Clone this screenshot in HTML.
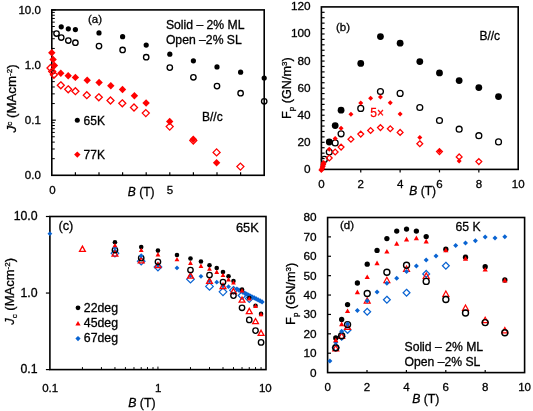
<!DOCTYPE html>
<html><head><meta charset="utf-8"><style>
html,body{margin:0;padding:0;background:#fff;width:533px;height:411px;overflow:hidden}
svg{display:block;font-family:"Liberation Sans",sans-serif;will-change:transform}

</style></head><body>
<svg width="533" height="411" viewBox="0 0 533 411">
<rect width="533" height="411" fill="#fff"/>
<rect x="51.8" y="9.9" width="212.39999999999998" height="165.4" fill="none" stroke="#000" stroke-width="1.6"/>
<line x1="51.80" y1="9.90" x2="55.80" y2="9.90" stroke="#000" stroke-width="1.2"/>
<line x1="51.80" y1="48.44" x2="54.80" y2="48.44" stroke="#000" stroke-width="1.0"/>
<line x1="51.80" y1="38.73" x2="54.80" y2="38.73" stroke="#000" stroke-width="1.0"/>
<line x1="51.80" y1="31.84" x2="54.80" y2="31.84" stroke="#000" stroke-width="1.0"/>
<line x1="51.80" y1="26.50" x2="54.80" y2="26.50" stroke="#000" stroke-width="1.0"/>
<line x1="51.80" y1="22.13" x2="54.80" y2="22.13" stroke="#000" stroke-width="1.0"/>
<line x1="51.80" y1="18.44" x2="54.80" y2="18.44" stroke="#000" stroke-width="1.0"/>
<line x1="51.80" y1="15.24" x2="54.80" y2="15.24" stroke="#000" stroke-width="1.0"/>
<line x1="51.80" y1="12.42" x2="54.80" y2="12.42" stroke="#000" stroke-width="1.0"/>
<line x1="51.80" y1="65.03" x2="55.80" y2="65.03" stroke="#000" stroke-width="1.2"/>
<line x1="51.80" y1="103.57" x2="54.80" y2="103.57" stroke="#000" stroke-width="1.0"/>
<line x1="51.80" y1="93.86" x2="54.80" y2="93.86" stroke="#000" stroke-width="1.0"/>
<line x1="51.80" y1="86.97" x2="54.80" y2="86.97" stroke="#000" stroke-width="1.0"/>
<line x1="51.80" y1="81.63" x2="54.80" y2="81.63" stroke="#000" stroke-width="1.0"/>
<line x1="51.80" y1="77.26" x2="54.80" y2="77.26" stroke="#000" stroke-width="1.0"/>
<line x1="51.80" y1="73.57" x2="54.80" y2="73.57" stroke="#000" stroke-width="1.0"/>
<line x1="51.80" y1="70.38" x2="54.80" y2="70.38" stroke="#000" stroke-width="1.0"/>
<line x1="51.80" y1="67.56" x2="54.80" y2="67.56" stroke="#000" stroke-width="1.0"/>
<line x1="51.80" y1="120.17" x2="55.80" y2="120.17" stroke="#000" stroke-width="1.2"/>
<line x1="51.80" y1="158.70" x2="54.80" y2="158.70" stroke="#000" stroke-width="1.0"/>
<line x1="51.80" y1="148.99" x2="54.80" y2="148.99" stroke="#000" stroke-width="1.0"/>
<line x1="51.80" y1="142.11" x2="54.80" y2="142.11" stroke="#000" stroke-width="1.0"/>
<line x1="51.80" y1="136.76" x2="54.80" y2="136.76" stroke="#000" stroke-width="1.0"/>
<line x1="51.80" y1="132.40" x2="54.80" y2="132.40" stroke="#000" stroke-width="1.0"/>
<line x1="51.80" y1="128.71" x2="54.80" y2="128.71" stroke="#000" stroke-width="1.0"/>
<line x1="51.80" y1="125.51" x2="54.80" y2="125.51" stroke="#000" stroke-width="1.0"/>
<line x1="51.80" y1="122.69" x2="54.80" y2="122.69" stroke="#000" stroke-width="1.0"/>
<line x1="75.40" y1="175.30" x2="75.40" y2="172.30" stroke="#000" stroke-width="1.2"/>
<line x1="99.00" y1="175.30" x2="99.00" y2="172.30" stroke="#000" stroke-width="1.2"/>
<line x1="122.60" y1="175.30" x2="122.60" y2="172.30" stroke="#000" stroke-width="1.2"/>
<line x1="146.20" y1="175.30" x2="146.20" y2="172.30" stroke="#000" stroke-width="1.2"/>
<line x1="169.80" y1="175.30" x2="169.80" y2="172.30" stroke="#000" stroke-width="1.2"/>
<line x1="193.40" y1="175.30" x2="193.40" y2="172.30" stroke="#000" stroke-width="1.2"/>
<line x1="217.00" y1="175.30" x2="217.00" y2="172.30" stroke="#000" stroke-width="1.2"/>
<line x1="240.60" y1="175.30" x2="240.60" y2="172.30" stroke="#000" stroke-width="1.2"/>
<text x="40.80" y="14.00" font-size="11.5" text-anchor="end" fill="#000" stroke="#000" stroke-width="0.3" >10.0</text>
<text x="40.80" y="69.13" font-size="11.5" text-anchor="end" fill="#000" stroke="#000" stroke-width="0.3" >1.0</text>
<text x="40.80" y="124.27" font-size="11.5" text-anchor="end" fill="#000" stroke="#000" stroke-width="0.3" >0.1</text>
<text x="40.80" y="179.40" font-size="11.5" text-anchor="end" fill="#000" stroke="#000" stroke-width="0.3" >0.0</text>
<text x="52.50" y="194.30" font-size="11.5" text-anchor="middle" fill="#000" stroke="#000" stroke-width="0.3" >0</text>
<text x="170.00" y="194.30" font-size="11.5" text-anchor="middle" fill="#000" stroke="#000" stroke-width="0.3" >5</text>
<text x="127.80" y="195.50" font-size="12" text-anchor="start" fill="#000" stroke="#000" stroke-width="0.3" ><tspan font-style="italic">B</tspan> (T)</text>
<text x="88.00" y="22.80" font-size="11.5" text-anchor="start" fill="#000" stroke="#000" stroke-width="0.3" >(a)</text>
<text x="165.90" y="28.60" font-size="12.2" text-anchor="start" fill="#000" stroke="#000" stroke-width="0.3" >Solid – 2% ML</text>
<text x="165.90" y="44.30" font-size="12.2" text-anchor="start" fill="#000" stroke="#000" stroke-width="0.3" >Open –2% SL</text>
<text x="202.00" y="120.80" font-size="12" text-anchor="start" fill="#000" stroke="#000" stroke-width="0.3" >B//c</text>
<circle cx="77.30" cy="120.30" r="2.5" fill="#000"/>
<text x="83.60" y="124.60" font-size="12" text-anchor="start" fill="#000" stroke="#000" stroke-width="0.3" >65K</text>
<path d="M77.30 151.40L80.50 154.60L77.30 157.80L74.10 154.60Z" fill="#f00"/>
<text x="83.60" y="158.70" font-size="12" text-anchor="start" fill="#000" stroke="#000" stroke-width="0.3" >77K</text>
<text x="0.00" y="0.00" font-size="13.3" text-anchor="middle" fill="#000" stroke="#000" stroke-width="0.3" transform="translate(16.0,98.4) rotate(-90)"><tspan font-style="italic">J</tspan><tspan font-size="8" dy="-4">c</tspan><tspan dy="4"> (MAcm</tspan><tspan font-size="8" dy="-4">-2</tspan><tspan dy="4">)</tspan></text>
<circle cx="61.24" cy="26.80" r="2.6" fill="#000"/>
<circle cx="68.32" cy="28.80" r="2.6" fill="#000"/>
<circle cx="75.40" cy="29.60" r="2.6" fill="#000"/>
<circle cx="99.00" cy="32.90" r="2.6" fill="#000"/>
<circle cx="122.60" cy="36.70" r="2.6" fill="#000"/>
<circle cx="146.20" cy="45.10" r="2.6" fill="#000"/>
<circle cx="169.80" cy="54.20" r="2.6" fill="#000"/>
<circle cx="193.40" cy="60.80" r="2.6" fill="#000"/>
<circle cx="217.00" cy="66.90" r="2.6" fill="#000"/>
<circle cx="240.60" cy="72.20" r="2.6" fill="#000"/>
<circle cx="264.20" cy="78.00" r="2.6" fill="#000"/>
<circle cx="56.52" cy="33.50" r="2.7" fill="none" stroke="#000" stroke-width="1.35"/>
<circle cx="61.24" cy="37.50" r="2.7" fill="none" stroke="#000" stroke-width="1.35"/>
<circle cx="68.32" cy="40.50" r="2.7" fill="none" stroke="#000" stroke-width="1.35"/>
<circle cx="75.40" cy="42.70" r="2.7" fill="none" stroke="#000" stroke-width="1.35"/>
<circle cx="99.00" cy="46.10" r="2.7" fill="none" stroke="#000" stroke-width="1.35"/>
<circle cx="122.60" cy="49.90" r="2.7" fill="none" stroke="#000" stroke-width="1.35"/>
<circle cx="146.20" cy="57.20" r="2.7" fill="none" stroke="#000" stroke-width="1.35"/>
<circle cx="169.80" cy="67.60" r="2.7" fill="none" stroke="#000" stroke-width="1.35"/>
<circle cx="193.40" cy="77.30" r="2.7" fill="none" stroke="#000" stroke-width="1.35"/>
<circle cx="217.00" cy="86.10" r="2.7" fill="none" stroke="#000" stroke-width="1.35"/>
<circle cx="240.60" cy="93.20" r="2.7" fill="none" stroke="#000" stroke-width="1.35"/>
<circle cx="264.20" cy="101.30" r="2.7" fill="none" stroke="#000" stroke-width="1.35"/>
<path d="M50.50 64.50L54.00 68.00L50.50 71.50L47.00 68.00Z" fill="none" stroke="#f00" stroke-width="1.3"/>
<path d="M52.20 67.90L55.70 71.40L52.20 74.90L48.70 71.40Z" fill="none" stroke="#f00" stroke-width="1.3"/>
<path d="M53.90 71.30L57.40 74.80L53.90 78.30L50.40 74.80Z" fill="none" stroke="#f00" stroke-width="1.3"/>
<path d="M60.80 81.80L64.30 85.30L60.80 88.80L57.30 85.30Z" fill="none" stroke="#f00" stroke-width="1.3"/>
<path d="M68.20 85.80L71.70 89.30L68.20 92.80L64.70 89.30Z" fill="none" stroke="#f00" stroke-width="1.3"/>
<path d="M75.40 87.70L78.90 91.20L75.40 94.70L71.90 91.20Z" fill="none" stroke="#f00" stroke-width="1.3"/>
<path d="M86.80 91.70L90.30 95.20L86.80 98.70L83.30 95.20Z" fill="none" stroke="#f00" stroke-width="1.3"/>
<path d="M98.80 93.80L102.30 97.30L98.80 100.80L95.30 97.30Z" fill="none" stroke="#f00" stroke-width="1.3"/>
<path d="M110.50 97.00L114.00 100.50L110.50 104.00L107.00 100.50Z" fill="none" stroke="#f00" stroke-width="1.3"/>
<path d="M122.30 99.80L125.80 103.30L122.30 106.80L118.80 103.30Z" fill="none" stroke="#f00" stroke-width="1.3"/>
<path d="M134.00 104.00L137.50 107.50L134.00 111.00L130.50 107.50Z" fill="none" stroke="#f00" stroke-width="1.3"/>
<path d="M145.80 109.60L149.30 113.10L145.80 116.60L142.30 113.10Z" fill="none" stroke="#f00" stroke-width="1.3"/>
<path d="M169.70 123.10L173.20 126.60L169.70 130.10L166.20 126.60Z" fill="none" stroke="#f00" stroke-width="1.3"/>
<path d="M193.30 137.00L196.80 140.50L193.30 144.00L189.80 140.50Z" fill="none" stroke="#f00" stroke-width="1.3"/>
<path d="M216.60 148.90L220.10 152.40L216.60 155.90L213.10 152.40Z" fill="none" stroke="#f00" stroke-width="1.3"/>
<path d="M240.40 163.10L243.90 166.60L240.40 170.10L236.90 166.60Z" fill="none" stroke="#f00" stroke-width="1.3"/>
<path d="M51.80 49.00L55.50 52.70L51.80 56.40L48.10 52.70Z" fill="#f00"/>
<path d="M53.10 55.80L56.80 59.50L53.10 63.20L49.40 59.50Z" fill="#f00"/>
<path d="M54.40 61.80L58.10 65.50L54.40 69.20L50.70 65.50Z" fill="#f00"/>
<path d="M60.80 69.60L64.50 73.30L60.80 77.00L57.10 73.30Z" fill="#f00"/>
<path d="M68.20 72.00L71.90 75.70L68.20 79.40L64.50 75.70Z" fill="#f00"/>
<path d="M75.40 73.70L79.10 77.40L75.40 81.10L71.70 77.40Z" fill="#f00"/>
<path d="M87.20 76.50L90.90 80.20L87.20 83.90L83.50 80.20Z" fill="#f00"/>
<path d="M99.10 78.80L102.80 82.50L99.10 86.20L95.40 82.50Z" fill="#f00"/>
<path d="M110.80 82.10L114.50 85.80L110.80 89.50L107.10 85.80Z" fill="#f00"/>
<path d="M122.50 85.80L126.20 89.50L122.50 93.20L118.80 89.50Z" fill="#f00"/>
<path d="M134.40 92.10L138.10 95.80L134.40 99.50L130.70 95.80Z" fill="#f00"/>
<path d="M146.10 99.30L149.80 103.00L146.10 106.70L142.40 103.00Z" fill="#f00"/>
<path d="M169.70 117.80L173.40 121.50L169.70 125.20L166.00 121.50Z" fill="#f00"/>
<path d="M193.30 135.60L197.00 139.30L193.30 143.00L189.60 139.30Z" fill="#f00"/>
<path d="M216.60 159.10L220.30 162.80L216.60 166.50L212.90 162.80Z" fill="#f00"/>
<rect x="321.4" y="6.9" width="196.80000000000007" height="162.5" fill="none" stroke="#000" stroke-width="1.6"/>
<line x1="321.40" y1="163.98" x2="324.60" y2="163.98" stroke="#000" stroke-width="1.2"/>
<line x1="321.40" y1="158.57" x2="324.60" y2="158.57" stroke="#000" stroke-width="1.2"/>
<line x1="321.40" y1="153.15" x2="324.60" y2="153.15" stroke="#000" stroke-width="1.2"/>
<line x1="321.40" y1="147.73" x2="324.60" y2="147.73" stroke="#000" stroke-width="1.2"/>
<line x1="321.40" y1="142.32" x2="324.60" y2="142.32" stroke="#000" stroke-width="1.2"/>
<line x1="321.40" y1="136.90" x2="324.60" y2="136.90" stroke="#000" stroke-width="1.2"/>
<line x1="321.40" y1="131.48" x2="324.60" y2="131.48" stroke="#000" stroke-width="1.2"/>
<line x1="321.40" y1="126.07" x2="324.60" y2="126.07" stroke="#000" stroke-width="1.2"/>
<line x1="321.40" y1="120.65" x2="324.60" y2="120.65" stroke="#000" stroke-width="1.2"/>
<line x1="321.40" y1="115.23" x2="324.60" y2="115.23" stroke="#000" stroke-width="1.2"/>
<line x1="321.40" y1="109.82" x2="324.60" y2="109.82" stroke="#000" stroke-width="1.2"/>
<line x1="321.40" y1="104.40" x2="324.60" y2="104.40" stroke="#000" stroke-width="1.2"/>
<line x1="321.40" y1="98.98" x2="324.60" y2="98.98" stroke="#000" stroke-width="1.2"/>
<line x1="321.40" y1="93.57" x2="324.60" y2="93.57" stroke="#000" stroke-width="1.2"/>
<line x1="321.40" y1="88.15" x2="324.60" y2="88.15" stroke="#000" stroke-width="1.2"/>
<line x1="321.40" y1="82.73" x2="324.60" y2="82.73" stroke="#000" stroke-width="1.2"/>
<line x1="321.40" y1="77.32" x2="324.60" y2="77.32" stroke="#000" stroke-width="1.2"/>
<line x1="321.40" y1="71.90" x2="324.60" y2="71.90" stroke="#000" stroke-width="1.2"/>
<line x1="321.40" y1="66.48" x2="324.60" y2="66.48" stroke="#000" stroke-width="1.2"/>
<line x1="321.40" y1="61.07" x2="324.60" y2="61.07" stroke="#000" stroke-width="1.2"/>
<line x1="321.40" y1="55.65" x2="324.60" y2="55.65" stroke="#000" stroke-width="1.2"/>
<line x1="321.40" y1="50.23" x2="324.60" y2="50.23" stroke="#000" stroke-width="1.2"/>
<line x1="321.40" y1="44.82" x2="324.60" y2="44.82" stroke="#000" stroke-width="1.2"/>
<line x1="321.40" y1="39.40" x2="324.60" y2="39.40" stroke="#000" stroke-width="1.2"/>
<line x1="321.40" y1="33.98" x2="324.60" y2="33.98" stroke="#000" stroke-width="1.2"/>
<line x1="321.40" y1="28.57" x2="324.60" y2="28.57" stroke="#000" stroke-width="1.2"/>
<line x1="321.40" y1="23.15" x2="324.60" y2="23.15" stroke="#000" stroke-width="1.2"/>
<line x1="321.40" y1="17.73" x2="324.60" y2="17.73" stroke="#000" stroke-width="1.2"/>
<line x1="321.40" y1="12.32" x2="324.60" y2="12.32" stroke="#000" stroke-width="1.2"/>
<line x1="360.76" y1="169.40" x2="360.76" y2="172.40" stroke="#000" stroke-width="1.2"/>
<line x1="400.12" y1="169.40" x2="400.12" y2="172.40" stroke="#000" stroke-width="1.2"/>
<line x1="439.48" y1="169.40" x2="439.48" y2="172.40" stroke="#000" stroke-width="1.2"/>
<line x1="478.84" y1="169.40" x2="478.84" y2="172.40" stroke="#000" stroke-width="1.2"/>
<text x="310.60" y="172.90" font-size="11.8" text-anchor="end" fill="#000" stroke="#000" stroke-width="0.3" >0</text>
<text x="310.60" y="145.82" font-size="11.8" text-anchor="end" fill="#000" stroke="#000" stroke-width="0.3" >20</text>
<text x="310.60" y="118.73" font-size="11.8" text-anchor="end" fill="#000" stroke="#000" stroke-width="0.3" >40</text>
<text x="310.60" y="91.65" font-size="11.8" text-anchor="end" fill="#000" stroke="#000" stroke-width="0.3" >60</text>
<text x="310.60" y="64.57" font-size="11.8" text-anchor="end" fill="#000" stroke="#000" stroke-width="0.3" >80</text>
<text x="310.60" y="37.48" font-size="11.8" text-anchor="end" fill="#000" stroke="#000" stroke-width="0.3" >100</text>
<text x="310.60" y="10.40" font-size="11.8" text-anchor="end" fill="#000" stroke="#000" stroke-width="0.3" >120</text>
<text x="321.40" y="187.60" font-size="11.5" text-anchor="middle" fill="#000" stroke="#000" stroke-width="0.3" >0</text>
<text x="360.76" y="187.60" font-size="11.5" text-anchor="middle" fill="#000" stroke="#000" stroke-width="0.3" >2</text>
<text x="400.12" y="187.60" font-size="11.5" text-anchor="middle" fill="#000" stroke="#000" stroke-width="0.3" >4</text>
<text x="439.48" y="187.60" font-size="11.5" text-anchor="middle" fill="#000" stroke="#000" stroke-width="0.3" >6</text>
<text x="478.84" y="187.60" font-size="11.5" text-anchor="middle" fill="#000" stroke="#000" stroke-width="0.3" >8</text>
<text x="518.20" y="187.60" font-size="11.5" text-anchor="middle" fill="#000" stroke="#000" stroke-width="0.3" >10</text>
<text x="409.30" y="194.80" font-size="12" text-anchor="start" fill="#000" stroke="#000" stroke-width="0.3" ><tspan font-style="italic">B</tspan> (T)</text>
<text x="336.00" y="31.20" font-size="11.5" text-anchor="start" fill="#000" stroke="#000" stroke-width="0.3" >(b)</text>
<text x="479.40" y="39.50" font-size="12" text-anchor="start" fill="#000" stroke="#000" stroke-width="0.3" >B//c</text>
<text x="370.30" y="116.60" font-size="12" text-anchor="start" fill="#f00" stroke="#f00" stroke-width="0.3" >5×</text>
<text x="0.00" y="0.00" font-size="12.7" text-anchor="middle" fill="#000" stroke="#000" stroke-width="0.3" transform="translate(290.9,88.2) rotate(-90)">F<tspan font-size="8" dy="3">p</tspan><tspan dy="-3"> (GN/m</tspan><tspan font-size="8" dy="-4">3</tspan><tspan dy="4">)</tspan></text>
<circle cx="329.27" cy="142.00" r="3.4" fill="#000"/>
<circle cx="335.18" cy="125.60" r="3.4" fill="#000"/>
<circle cx="341.08" cy="110.20" r="3.4" fill="#000"/>
<circle cx="360.76" cy="63.40" r="3.4" fill="#000"/>
<circle cx="380.44" cy="36.60" r="3.4" fill="#000"/>
<circle cx="400.12" cy="43.20" r="3.4" fill="#000"/>
<circle cx="419.80" cy="61.60" r="3.4" fill="#000"/>
<circle cx="439.48" cy="72.90" r="3.4" fill="#000"/>
<circle cx="459.16" cy="80.60" r="3.4" fill="#000"/>
<circle cx="478.84" cy="87.60" r="3.4" fill="#000"/>
<circle cx="498.52" cy="96.60" r="3.4" fill="#000"/>
<circle cx="324.35" cy="159.40" r="2.95" fill="none" stroke="#000" stroke-width="1.3"/>
<circle cx="329.27" cy="152.00" r="2.95" fill="none" stroke="#000" stroke-width="1.3"/>
<circle cx="335.18" cy="142.90" r="2.95" fill="none" stroke="#000" stroke-width="1.3"/>
<circle cx="341.08" cy="133.80" r="2.95" fill="none" stroke="#000" stroke-width="1.3"/>
<circle cx="360.76" cy="108.40" r="2.95" fill="none" stroke="#000" stroke-width="1.3"/>
<circle cx="380.44" cy="91.50" r="2.95" fill="none" stroke="#000" stroke-width="1.3"/>
<circle cx="400.12" cy="93.40" r="2.95" fill="none" stroke="#000" stroke-width="1.3"/>
<circle cx="419.80" cy="107.50" r="2.95" fill="none" stroke="#000" stroke-width="1.3"/>
<circle cx="439.48" cy="120.50" r="2.95" fill="none" stroke="#000" stroke-width="1.3"/>
<circle cx="459.16" cy="129.20" r="2.95" fill="none" stroke="#000" stroke-width="1.3"/>
<circle cx="478.84" cy="135.70" r="2.95" fill="none" stroke="#000" stroke-width="1.3"/>
<circle cx="498.52" cy="141.90" r="2.95" fill="none" stroke="#000" stroke-width="1.3"/>
<path d="M329.27 155.10L332.17 158.00L329.27 160.90L326.37 158.00Z" fill="none" stroke="#f00" stroke-width="1.3"/>
<path d="M335.18 149.10L338.08 152.00L335.18 154.90L332.28 152.00Z" fill="none" stroke="#f00" stroke-width="1.3"/>
<path d="M341.08 144.20L343.98 147.10L341.08 150.00L338.18 147.10Z" fill="none" stroke="#f00" stroke-width="1.3"/>
<path d="M350.92 136.40L353.82 139.30L350.92 142.20L348.02 139.30Z" fill="none" stroke="#f00" stroke-width="1.3"/>
<path d="M360.76 131.20L363.66 134.10L360.76 137.00L357.86 134.10Z" fill="none" stroke="#f00" stroke-width="1.3"/>
<path d="M370.60 127.60L373.50 130.50L370.60 133.40L367.70 130.50Z" fill="none" stroke="#f00" stroke-width="1.3"/>
<path d="M380.44 124.70L383.34 127.60L380.44 130.50L377.54 127.60Z" fill="none" stroke="#f00" stroke-width="1.3"/>
<path d="M390.28 125.90L393.18 128.80L390.28 131.70L387.38 128.80Z" fill="none" stroke="#f00" stroke-width="1.3"/>
<path d="M400.12 129.50L403.02 132.40L400.12 135.30L397.22 132.40Z" fill="none" stroke="#f00" stroke-width="1.3"/>
<path d="M419.80 140.80L422.70 143.70L419.80 146.60L416.90 143.70Z" fill="none" stroke="#f00" stroke-width="1.3"/>
<path d="M439.48 148.70L442.38 151.60L439.48 154.50L436.58 151.60Z" fill="none" stroke="#f00" stroke-width="1.3"/>
<path d="M459.16 154.00L462.06 156.90L459.16 159.80L456.26 156.90Z" fill="none" stroke="#f00" stroke-width="1.3"/>
<path d="M478.84 158.70L481.74 161.60L478.84 164.50L475.94 161.60Z" fill="none" stroke="#f00" stroke-width="1.3"/>
<path d="M329.27 146.80L331.77 149.30L329.27 151.80L326.77 149.30Z" fill="#f00"/>
<path d="M335.18 135.90L337.68 138.40L335.18 140.90L332.68 138.40Z" fill="#f00"/>
<path d="M341.08 125.80L343.58 128.30L341.08 130.80L338.58 128.30Z" fill="#f00"/>
<path d="M350.92 111.70L353.42 114.20L350.92 116.70L348.42 114.20Z" fill="#f00"/>
<path d="M360.76 100.60L363.26 103.10L360.76 105.60L358.26 103.10Z" fill="#f00"/>
<path d="M370.60 95.70L373.10 98.20L370.60 100.70L368.10 98.20Z" fill="#f00"/>
<path d="M380.44 94.40L382.94 96.90L380.44 99.40L377.94 96.90Z" fill="#f00"/>
<path d="M390.28 100.20L392.78 102.70L390.28 105.20L387.78 102.70Z" fill="#f00"/>
<path d="M400.12 111.50L402.62 114.00L400.12 116.50L397.62 114.00Z" fill="#f00"/>
<path d="M419.80 134.90L422.30 137.40L419.80 139.90L417.30 137.40Z" fill="#f00"/>
<path d="M439.48 148.60L441.98 151.10L439.48 153.60L436.98 151.10Z" fill="#f00"/>
<path d="M459.16 158.60L461.66 161.10L459.16 163.60L456.66 161.10Z" fill="#f00"/>
<path d="M321.30 167.00L324.30 170.00L321.30 173.00L318.30 170.00Z" fill="#f00"/>
<path d="M322.30 165.30L325.30 168.30L322.30 171.30L319.30 168.30Z" fill="#f00"/>
<path d="M322.80 163.30L325.80 166.30L322.80 169.30L319.80 166.30Z" fill="#f00"/>
<path d="M323.30 161.50L326.30 164.50L323.30 167.50L320.30 164.50Z" fill="#f00"/>
<path d="M323.60 160.00L326.60 163.00L323.60 166.00L320.60 163.00Z" fill="#f00"/>
<rect x="49.9" y="216.5" width="216.1" height="153.10000000000002" fill="none" stroke="#000" stroke-width="1.6"/>
<line x1="45.90" y1="216.50" x2="49.90" y2="216.50" stroke="#000" stroke-width="1.2"/>
<line x1="45.90" y1="293.05" x2="49.90" y2="293.05" stroke="#000" stroke-width="1.2"/>
<line x1="45.90" y1="369.60" x2="49.90" y2="369.60" stroke="#000" stroke-width="1.2"/>
<line x1="82.43" y1="369.60" x2="82.43" y2="367.10" stroke="#000" stroke-width="1.0"/>
<line x1="101.45" y1="369.60" x2="101.45" y2="367.10" stroke="#000" stroke-width="1.0"/>
<line x1="114.95" y1="369.60" x2="114.95" y2="367.10" stroke="#000" stroke-width="1.0"/>
<line x1="125.42" y1="369.60" x2="125.42" y2="367.10" stroke="#000" stroke-width="1.0"/>
<line x1="133.98" y1="369.60" x2="133.98" y2="367.10" stroke="#000" stroke-width="1.0"/>
<line x1="141.21" y1="369.60" x2="141.21" y2="367.10" stroke="#000" stroke-width="1.0"/>
<line x1="147.48" y1="369.60" x2="147.48" y2="367.10" stroke="#000" stroke-width="1.0"/>
<line x1="153.01" y1="369.60" x2="153.01" y2="367.10" stroke="#000" stroke-width="1.0"/>
<line x1="190.48" y1="369.60" x2="190.48" y2="367.10" stroke="#000" stroke-width="1.0"/>
<line x1="209.50" y1="369.60" x2="209.50" y2="367.10" stroke="#000" stroke-width="1.0"/>
<line x1="223.00" y1="369.60" x2="223.00" y2="367.10" stroke="#000" stroke-width="1.0"/>
<line x1="233.47" y1="369.60" x2="233.47" y2="367.10" stroke="#000" stroke-width="1.0"/>
<line x1="242.03" y1="369.60" x2="242.03" y2="367.10" stroke="#000" stroke-width="1.0"/>
<line x1="249.26" y1="369.60" x2="249.26" y2="367.10" stroke="#000" stroke-width="1.0"/>
<line x1="255.53" y1="369.60" x2="255.53" y2="367.10" stroke="#000" stroke-width="1.0"/>
<line x1="261.06" y1="369.60" x2="261.06" y2="367.10" stroke="#000" stroke-width="1.0"/>
<line x1="157.95" y1="369.60" x2="157.95" y2="366.60" stroke="#000" stroke-width="1.0"/>
<text x="37.60" y="220.00" font-size="12.3" text-anchor="end" fill="#000" stroke="#000" stroke-width="0.3" >10.0</text>
<text x="37.60" y="296.55" font-size="12.3" text-anchor="end" fill="#000" stroke="#000" stroke-width="0.3" >1.0</text>
<text x="37.60" y="373.10" font-size="12.3" text-anchor="end" fill="#000" stroke="#000" stroke-width="0.3" >0.1</text>
<text x="50.20" y="391.80" font-size="11.5" text-anchor="middle" fill="#000" stroke="#000" stroke-width="0.3" >0.1</text>
<text x="158.30" y="391.80" font-size="11.5" text-anchor="middle" fill="#000" stroke="#000" stroke-width="0.3" >1</text>
<text x="265.30" y="391.80" font-size="11.5" text-anchor="middle" fill="#000" stroke="#000" stroke-width="0.3" >10</text>
<text x="128.20" y="407.20" font-size="12.3" text-anchor="start" fill="#000" stroke="#000" stroke-width="0.3" ><tspan font-style="italic">B</tspan> (T)</text>
<text x="58.40" y="229.80" font-size="12.8" text-anchor="start" fill="#000" stroke="#000" stroke-width="0.3" >(c)</text>
<text x="236.00" y="232.40" font-size="12.8" text-anchor="start" fill="#000" stroke="#000" stroke-width="0.3" >65K</text>
<circle cx="78.00" cy="307.80" r="2.4" fill="#000"/>
<text x="83.80" y="312.20" font-size="12.3" text-anchor="start" fill="#000" stroke="#000" stroke-width="0.3" >22deg</text>
<path d="M78.00 320.90L80.60 325.58L75.40 325.58Z" fill="#f00"/>
<text x="83.80" y="327.20" font-size="12.3" text-anchor="start" fill="#000" stroke="#000" stroke-width="0.3" >45deg</text>
<path d="M78.00 336.00L80.60 338.60L78.00 341.20L75.40 338.60Z" fill="#0a64d2"/>
<text x="83.80" y="342.30" font-size="12.3" text-anchor="start" fill="#000" stroke="#000" stroke-width="0.3" >67deg</text>
<text x="0.00" y="0.00" font-size="13.0" text-anchor="middle" fill="#000" stroke="#000" stroke-width="0.3" transform="translate(13.5,291.4) rotate(-90)"><tspan font-style="italic">J</tspan><tspan font-size="8" dy="3">c</tspan><tspan dy="-3"> (MAcm</tspan><tspan font-size="8" dy="-4">-2</tspan><tspan dy="4">)</tspan></text>
<path d="M157.95 263.10L160.35 265.50L157.95 267.90L155.55 265.50Z" fill="#0a64d2"/>
<path d="M190.48 273.40L192.88 275.80L190.48 278.20L188.08 275.80Z" fill="#0a64d2"/>
<path d="M209.50 278.60L211.90 281.00L209.50 283.40L207.10 281.00Z" fill="#0a64d2"/>
<path d="M223.00 283.40L225.40 285.80L223.00 288.20L220.60 285.80Z" fill="#0a64d2"/>
<path d="M114.95 249.40L118.75 253.20L114.95 257.00L111.15 253.20Z" fill="none" stroke="#0a64d2" stroke-width="1.2"/>
<path d="M141.21 257.40L145.01 261.20L141.21 265.00L137.41 261.20Z" fill="none" stroke="#0a64d2" stroke-width="1.2"/>
<path d="M157.95 263.20L161.75 267.00L157.95 270.80L154.15 267.00Z" fill="none" stroke="#0a64d2" stroke-width="1.2"/>
<path d="M190.48 275.40L194.28 279.20L190.48 283.00L186.68 279.20Z" fill="none" stroke="#0a64d2" stroke-width="1.2"/>
<path d="M209.50 282.60L213.30 286.40L209.50 290.20L205.70 286.40Z" fill="none" stroke="#0a64d2" stroke-width="1.2"/>
<path d="M223.00 288.00L226.80 291.80L223.00 295.60L219.20 291.80Z" fill="none" stroke="#0a64d2" stroke-width="1.2"/>
<path d="M233.47 286.50L237.27 290.30L233.47 294.10L229.67 290.30Z" fill="none" stroke="#0a64d2" stroke-width="1.2"/>
<path d="M242.03 291.70L245.83 295.50L242.03 299.30L238.23 295.50Z" fill="none" stroke="#0a64d2" stroke-width="1.2"/>
<path d="M249.26 294.80L253.06 298.60L249.26 302.40L245.46 298.60Z" fill="none" stroke="#0a64d2" stroke-width="1.2"/>
<path d="M82.43 246.10L85.33 251.32L79.53 251.32Z" fill="none" stroke="#f00" stroke-width="1.3" stroke-linejoin="miter"/>
<path d="M114.95 250.90L117.85 256.12L112.05 256.12Z" fill="none" stroke="#f00" stroke-width="1.3" stroke-linejoin="miter"/>
<path d="M141.21 257.70L144.11 262.92L138.31 262.92Z" fill="none" stroke="#f00" stroke-width="1.3" stroke-linejoin="miter"/>
<path d="M157.95 262.50L160.85 267.72L155.05 267.72Z" fill="none" stroke="#f00" stroke-width="1.3" stroke-linejoin="miter"/>
<path d="M190.48 272.90L193.38 278.12L187.58 278.12Z" fill="none" stroke="#f00" stroke-width="1.3" stroke-linejoin="miter"/>
<path d="M209.50 278.20L212.40 283.42L206.60 283.42Z" fill="none" stroke="#f00" stroke-width="1.3" stroke-linejoin="miter"/>
<path d="M223.00 283.30L225.90 288.52L220.10 288.52Z" fill="none" stroke="#f00" stroke-width="1.3" stroke-linejoin="miter"/>
<path d="M233.47 288.40L236.37 293.62L230.57 293.62Z" fill="none" stroke="#f00" stroke-width="1.3" stroke-linejoin="miter"/>
<path d="M242.03 297.00L244.93 302.22L239.13 302.22Z" fill="none" stroke="#f00" stroke-width="1.3" stroke-linejoin="miter"/>
<path d="M249.26 308.40L252.16 313.62L246.36 313.62Z" fill="none" stroke="#f00" stroke-width="1.3" stroke-linejoin="miter"/>
<path d="M255.53 318.50L258.43 323.72L252.63 323.72Z" fill="none" stroke="#f00" stroke-width="1.3" stroke-linejoin="miter"/>
<path d="M261.06 330.20L263.96 335.42L258.16 335.42Z" fill="none" stroke="#f00" stroke-width="1.3" stroke-linejoin="miter"/>
<circle cx="114.95" cy="250.00" r="2.7" fill="none" stroke="#000" stroke-width="1.35"/>
<circle cx="141.21" cy="258.10" r="2.7" fill="none" stroke="#000" stroke-width="1.35"/>
<circle cx="157.95" cy="261.80" r="2.7" fill="none" stroke="#000" stroke-width="1.35"/>
<circle cx="190.48" cy="270.00" r="2.7" fill="none" stroke="#000" stroke-width="1.35"/>
<circle cx="209.50" cy="275.00" r="2.7" fill="none" stroke="#000" stroke-width="1.35"/>
<circle cx="223.00" cy="282.10" r="2.7" fill="none" stroke="#000" stroke-width="1.35"/>
<circle cx="233.47" cy="295.60" r="2.7" fill="none" stroke="#000" stroke-width="1.35"/>
<circle cx="242.03" cy="307.80" r="2.7" fill="none" stroke="#000" stroke-width="1.35"/>
<circle cx="249.26" cy="319.90" r="2.7" fill="none" stroke="#000" stroke-width="1.35"/>
<circle cx="255.53" cy="330.60" r="2.7" fill="none" stroke="#000" stroke-width="1.35"/>
<circle cx="261.06" cy="342.40" r="2.7" fill="none" stroke="#000" stroke-width="1.35"/>
<path d="M49.90 231.30L52.30 233.70L49.90 236.10L47.50 233.70Z" fill="#0a64d2"/>
<path d="M114.95 244.80L117.35 247.20L114.95 249.60L112.55 247.20Z" fill="#0a64d2"/>
<path d="M141.21 253.30L143.61 255.70L141.21 258.10L138.81 255.70Z" fill="#0a64d2"/>
<path d="M176.98 265.50L179.38 267.90L176.98 270.30L174.58 267.90Z" fill="#0a64d2"/>
<path d="M200.95 273.90L203.35 276.30L200.95 278.70L198.55 276.30Z" fill="#0a64d2"/>
<path d="M216.74 279.80L219.14 282.20L216.74 284.60L214.34 282.20Z" fill="#0a64d2"/>
<path d="M228.53 284.30L230.93 286.70L228.53 289.10L226.13 286.70Z" fill="#0a64d2"/>
<path d="M236.90 286.50L239.50 289.10L236.90 291.70L234.30 289.10Z" fill="#0a64d2"/>
<path d="M238.84 287.48L241.44 290.08L238.84 292.68L236.24 290.08Z" fill="#0a64d2"/>
<path d="M240.78 288.47L243.38 291.07L240.78 293.67L238.18 291.07Z" fill="#0a64d2"/>
<path d="M242.72 289.45L245.32 292.05L242.72 294.65L240.12 292.05Z" fill="#0a64d2"/>
<path d="M244.65 290.44L247.25 293.04L244.65 295.64L242.05 293.04Z" fill="#0a64d2"/>
<path d="M246.59 291.42L249.19 294.02L246.59 296.62L243.99 294.02Z" fill="#0a64d2"/>
<path d="M248.53 292.41L251.13 295.01L248.53 297.61L245.93 295.01Z" fill="#0a64d2"/>
<path d="M250.47 293.39L253.07 295.99L250.47 298.59L247.87 295.99Z" fill="#0a64d2"/>
<path d="M252.41 294.38L255.01 296.98L252.41 299.58L249.81 296.98Z" fill="#0a64d2"/>
<path d="M254.35 295.36L256.95 297.96L254.35 300.56L251.75 297.96Z" fill="#0a64d2"/>
<path d="M256.28 296.35L258.88 298.95L256.28 301.55L253.68 298.95Z" fill="#0a64d2"/>
<path d="M258.22 297.33L260.82 299.93L258.22 302.53L255.62 299.93Z" fill="#0a64d2"/>
<path d="M260.16 298.32L262.76 300.92L260.16 303.52L257.56 300.92Z" fill="#0a64d2"/>
<path d="M262.10 299.30L264.70 301.90L262.10 304.50L259.50 301.90Z" fill="#0a64d2"/>
<circle cx="114.95" cy="242.30" r="2.3" fill="#000"/>
<circle cx="141.21" cy="247.10" r="2.3" fill="#000"/>
<circle cx="157.95" cy="250.60" r="2.3" fill="#000"/>
<circle cx="176.98" cy="255.00" r="2.3" fill="#000"/>
<circle cx="190.48" cy="258.50" r="2.3" fill="#000"/>
<circle cx="200.95" cy="261.50" r="2.3" fill="#000"/>
<circle cx="209.50" cy="265.20" r="2.3" fill="#000"/>
<circle cx="216.74" cy="268.00" r="2.3" fill="#000"/>
<circle cx="223.00" cy="272.00" r="2.3" fill="#000"/>
<circle cx="228.53" cy="276.30" r="2.3" fill="#000"/>
<circle cx="233.47" cy="281.00" r="2.3" fill="#000"/>
<circle cx="242.03" cy="289.60" r="2.3" fill="#000"/>
<circle cx="249.26" cy="298.00" r="2.3" fill="#000"/>
<circle cx="255.53" cy="305.80" r="2.3" fill="#000"/>
<circle cx="261.06" cy="313.90" r="2.3" fill="#000"/>
<path d="M114.95 242.90L117.35 247.22L112.55 247.22Z" fill="#f00"/>
<path d="M141.21 247.80L143.61 252.12L138.81 252.12Z" fill="#f00"/>
<path d="M157.95 252.10L160.35 256.42L155.55 256.42Z" fill="#f00"/>
<path d="M176.98 256.90L179.38 261.22L174.58 261.22Z" fill="#f00"/>
<path d="M190.48 260.60L192.88 264.92L188.08 264.92Z" fill="#f00"/>
<path d="M200.95 263.60L203.35 267.92L198.55 267.92Z" fill="#f00"/>
<path d="M209.50 266.40L211.90 270.72L207.10 270.72Z" fill="#f00"/>
<path d="M216.74 269.60L219.14 273.92L214.34 273.92Z" fill="#f00"/>
<path d="M223.00 272.80L225.40 277.12L220.60 277.12Z" fill="#f00"/>
<path d="M228.53 277.10L230.93 281.42L226.13 281.42Z" fill="#f00"/>
<path d="M233.47 280.30L235.87 284.62L231.07 284.62Z" fill="#f00"/>
<path d="M242.03 288.20L244.43 292.52L239.63 292.52Z" fill="#f00"/>
<path d="M249.26 296.20L251.66 300.52L246.86 300.52Z" fill="#f00"/>
<path d="M255.53 303.80L257.93 308.12L253.13 308.12Z" fill="#f00"/>
<path d="M261.06 311.90L263.46 316.22L258.66 316.22Z" fill="#f00"/>
<rect x="327.6" y="217.5" width="197.0" height="155.10000000000002" fill="none" stroke="#000" stroke-width="1.6"/>
<line x1="327.60" y1="353.21" x2="331.00" y2="353.21" stroke="#000" stroke-width="1.2"/>
<line x1="327.60" y1="333.83" x2="331.00" y2="333.83" stroke="#000" stroke-width="1.2"/>
<line x1="327.60" y1="314.44" x2="331.00" y2="314.44" stroke="#000" stroke-width="1.2"/>
<line x1="327.60" y1="295.05" x2="331.00" y2="295.05" stroke="#000" stroke-width="1.2"/>
<line x1="327.60" y1="275.66" x2="331.00" y2="275.66" stroke="#000" stroke-width="1.2"/>
<line x1="327.60" y1="256.27" x2="331.00" y2="256.27" stroke="#000" stroke-width="1.2"/>
<line x1="327.60" y1="236.89" x2="331.00" y2="236.89" stroke="#000" stroke-width="1.2"/>
<line x1="367.00" y1="372.60" x2="367.00" y2="369.90" stroke="#000" stroke-width="1.2"/>
<line x1="406.40" y1="372.60" x2="406.40" y2="369.90" stroke="#000" stroke-width="1.2"/>
<line x1="445.80" y1="372.60" x2="445.80" y2="369.90" stroke="#000" stroke-width="1.2"/>
<line x1="485.20" y1="372.60" x2="485.20" y2="369.90" stroke="#000" stroke-width="1.2"/>
<text x="316.60" y="376.50" font-size="11.8" text-anchor="end" fill="#000" stroke="#000" stroke-width="0.3" >0</text>
<text x="316.60" y="357.11" font-size="11.8" text-anchor="end" fill="#000" stroke="#000" stroke-width="0.3" >10</text>
<text x="316.60" y="337.73" font-size="11.8" text-anchor="end" fill="#000" stroke="#000" stroke-width="0.3" >20</text>
<text x="316.60" y="318.34" font-size="11.8" text-anchor="end" fill="#000" stroke="#000" stroke-width="0.3" >30</text>
<text x="316.60" y="298.95" font-size="11.8" text-anchor="end" fill="#000" stroke="#000" stroke-width="0.3" >40</text>
<text x="316.60" y="279.56" font-size="11.8" text-anchor="end" fill="#000" stroke="#000" stroke-width="0.3" >50</text>
<text x="316.60" y="260.17" font-size="11.8" text-anchor="end" fill="#000" stroke="#000" stroke-width="0.3" >60</text>
<text x="316.60" y="240.79" font-size="11.8" text-anchor="end" fill="#000" stroke="#000" stroke-width="0.3" >70</text>
<text x="316.60" y="221.40" font-size="11.8" text-anchor="end" fill="#000" stroke="#000" stroke-width="0.3" >80</text>
<text x="327.60" y="391.10" font-size="11.5" text-anchor="middle" fill="#000" stroke="#000" stroke-width="0.3" >0</text>
<text x="367.00" y="391.10" font-size="11.5" text-anchor="middle" fill="#000" stroke="#000" stroke-width="0.3" >2</text>
<text x="406.40" y="391.10" font-size="11.5" text-anchor="middle" fill="#000" stroke="#000" stroke-width="0.3" >4</text>
<text x="445.80" y="391.10" font-size="11.5" text-anchor="middle" fill="#000" stroke="#000" stroke-width="0.3" >6</text>
<text x="485.20" y="391.10" font-size="11.5" text-anchor="middle" fill="#000" stroke="#000" stroke-width="0.3" >8</text>
<text x="524.60" y="391.10" font-size="11.5" text-anchor="middle" fill="#000" stroke="#000" stroke-width="0.3" >10</text>
<text x="412.20" y="402.60" font-size="12.2" text-anchor="start" fill="#000" stroke="#000" stroke-width="0.3" ><tspan font-style="italic">B</tspan> (T)</text>
<text x="340.00" y="229.40" font-size="11.5" text-anchor="start" fill="#000" stroke="#000" stroke-width="0.3" >(d)</text>
<text x="455.60" y="231.00" font-size="12.2" text-anchor="start" fill="#000" stroke="#000" stroke-width="0.3" >65 K</text>
<text x="404.50" y="351.00" font-size="12.2" text-anchor="start" fill="#000" stroke="#000" stroke-width="0.3" >Solid – 2% ML</text>
<text x="404.50" y="365.90" font-size="12.2" text-anchor="start" fill="#000" stroke="#000" stroke-width="0.3" >Open –2% SL</text>
<text x="0.00" y="0.00" font-size="12.8" text-anchor="middle" fill="#000" stroke="#000" stroke-width="0.3" transform="translate(295.4,293.8) rotate(-90)">F<tspan font-size="8" dy="3">p</tspan><tspan dy="-3"> (GN/m</tspan><tspan font-size="8" dy="-4">3</tspan><tspan dy="4">)</tspan></text>
<path d="M335.76 344.40L339.16 347.80L335.76 351.20L332.36 347.80Z" fill="none" stroke="#0a64d2" stroke-width="1.25"/>
<path d="M341.66 333.30L345.06 336.70L341.66 340.10L338.26 336.70Z" fill="none" stroke="#0a64d2" stroke-width="1.25"/>
<path d="M347.56 326.50L350.96 329.90L347.56 333.30L344.16 329.90Z" fill="none" stroke="#0a64d2" stroke-width="1.25"/>
<path d="M367.22 308.40L370.62 311.80L367.22 315.20L363.82 311.80Z" fill="none" stroke="#0a64d2" stroke-width="1.25"/>
<path d="M386.88 296.30L390.28 299.70L386.88 303.10L383.48 299.70Z" fill="none" stroke="#0a64d2" stroke-width="1.25"/>
<path d="M406.54 289.30L409.94 292.70L406.54 296.10L403.14 292.70Z" fill="none" stroke="#0a64d2" stroke-width="1.25"/>
<path d="M426.20 270.50L429.60 273.90L426.20 277.30L422.80 273.90Z" fill="none" stroke="#0a64d2" stroke-width="1.25"/>
<path d="M445.86 262.30L449.26 265.70L445.86 269.10L442.46 265.70Z" fill="none" stroke="#0a64d2" stroke-width="1.25"/>
<path d="M335.76 345.40L338.76 350.80L332.76 350.80Z" fill="none" stroke="#f00" stroke-width="1.2" stroke-linejoin="miter"/>
<path d="M341.66 333.00L344.66 338.40L338.66 338.40Z" fill="none" stroke="#f00" stroke-width="1.2" stroke-linejoin="miter"/>
<path d="M347.56 324.00L350.56 329.40L344.56 329.40Z" fill="none" stroke="#f00" stroke-width="1.2" stroke-linejoin="miter"/>
<path d="M367.22 297.70L370.22 303.10L364.22 303.10Z" fill="none" stroke="#f00" stroke-width="1.2" stroke-linejoin="miter"/>
<path d="M386.88 277.20L389.88 282.60L383.88 282.60Z" fill="none" stroke="#f00" stroke-width="1.2" stroke-linejoin="miter"/>
<path d="M406.54 266.00L409.54 271.40L403.54 271.40Z" fill="none" stroke="#f00" stroke-width="1.2" stroke-linejoin="miter"/>
<path d="M426.20 272.90L429.20 278.30L423.20 278.30Z" fill="none" stroke="#f00" stroke-width="1.2" stroke-linejoin="miter"/>
<path d="M445.86 291.00L448.86 296.40L442.86 296.40Z" fill="none" stroke="#f00" stroke-width="1.2" stroke-linejoin="miter"/>
<path d="M465.52 305.00L468.52 310.40L462.52 310.40Z" fill="none" stroke="#f00" stroke-width="1.2" stroke-linejoin="miter"/>
<path d="M485.18 317.30L488.18 322.70L482.18 322.70Z" fill="none" stroke="#f00" stroke-width="1.2" stroke-linejoin="miter"/>
<path d="M504.84 327.50L507.84 332.90L501.84 332.90Z" fill="none" stroke="#f00" stroke-width="1.2" stroke-linejoin="miter"/>
<circle cx="335.76" cy="347.80" r="3.0" fill="none" stroke="#000" stroke-width="1.4"/>
<circle cx="341.66" cy="335.70" r="3.0" fill="none" stroke="#000" stroke-width="1.4"/>
<circle cx="347.56" cy="324.60" r="3.0" fill="none" stroke="#000" stroke-width="1.4"/>
<circle cx="367.22" cy="293.50" r="3.0" fill="none" stroke="#000" stroke-width="1.4"/>
<circle cx="386.88" cy="272.20" r="3.0" fill="none" stroke="#000" stroke-width="1.4"/>
<circle cx="406.54" cy="265.20" r="3.0" fill="none" stroke="#000" stroke-width="1.4"/>
<circle cx="426.20" cy="281.40" r="3.0" fill="none" stroke="#000" stroke-width="1.4"/>
<circle cx="445.86" cy="299.50" r="3.0" fill="none" stroke="#000" stroke-width="1.4"/>
<circle cx="465.52" cy="313.00" r="3.0" fill="none" stroke="#000" stroke-width="1.4"/>
<circle cx="485.18" cy="322.60" r="3.0" fill="none" stroke="#000" stroke-width="1.4"/>
<circle cx="504.84" cy="332.70" r="3.0" fill="none" stroke="#000" stroke-width="1.4"/>
<path d="M329.87 358.50L332.37 361.00L329.87 363.50L327.37 361.00Z" fill="#0a64d2"/>
<path d="M335.76 340.00L338.26 342.50L335.76 345.00L333.26 342.50Z" fill="#0a64d2"/>
<path d="M341.66 328.70L344.16 331.20L341.66 333.70L339.16 331.20Z" fill="#0a64d2"/>
<path d="M347.56 321.50L350.06 324.00L347.56 326.50L345.06 324.00Z" fill="#0a64d2"/>
<path d="M357.39 307.90L359.89 310.40L357.39 312.90L354.89 310.40Z" fill="#0a64d2"/>
<path d="M367.22 298.20L369.72 300.70L367.22 303.20L364.72 300.70Z" fill="#0a64d2"/>
<path d="M377.05 289.50L379.55 292.00L377.05 294.50L374.55 292.00Z" fill="#0a64d2"/>
<path d="M386.88 280.70L389.38 283.20L386.88 285.70L384.38 283.20Z" fill="#0a64d2"/>
<path d="M396.71 275.70L399.21 278.20L396.71 280.70L394.21 278.20Z" fill="#0a64d2"/>
<path d="M406.54 268.90L409.04 271.40L406.54 273.90L404.04 271.40Z" fill="#0a64d2"/>
<path d="M416.37 263.40L418.87 265.90L416.37 268.40L413.87 265.90Z" fill="#0a64d2"/>
<path d="M426.20 257.60L428.70 260.10L426.20 262.60L423.70 260.10Z" fill="#0a64d2"/>
<path d="M436.03 253.40L438.53 255.90L436.03 258.40L433.53 255.90Z" fill="#0a64d2"/>
<path d="M445.86 247.60L448.36 250.10L445.86 252.60L443.36 250.10Z" fill="#0a64d2"/>
<path d="M455.69 243.10L458.19 245.60L455.69 248.10L453.19 245.60Z" fill="#0a64d2"/>
<path d="M465.52 240.60L468.02 243.10L465.52 245.60L463.02 243.10Z" fill="#0a64d2"/>
<path d="M475.35 238.30L477.85 240.80L475.35 243.30L472.85 240.80Z" fill="#0a64d2"/>
<path d="M485.18 234.60L487.68 237.10L485.18 239.60L482.68 237.10Z" fill="#0a64d2"/>
<path d="M495.01 235.60L497.51 238.10L495.01 240.60L492.51 238.10Z" fill="#0a64d2"/>
<path d="M504.84 234.30L507.34 236.80L504.84 239.30L502.34 236.80Z" fill="#0a64d2"/>
<circle cx="335.76" cy="338.00" r="2.65" fill="#000"/>
<circle cx="341.66" cy="319.50" r="2.65" fill="#000"/>
<circle cx="347.56" cy="304.60" r="2.65" fill="#000"/>
<circle cx="357.39" cy="283.00" r="2.65" fill="#000"/>
<circle cx="367.22" cy="264.20" r="2.65" fill="#000"/>
<circle cx="377.05" cy="250.40" r="2.65" fill="#000"/>
<circle cx="386.88" cy="238.60" r="2.65" fill="#000"/>
<circle cx="396.71" cy="231.10" r="2.65" fill="#000"/>
<circle cx="406.54" cy="229.10" r="2.65" fill="#000"/>
<circle cx="416.37" cy="231.10" r="2.65" fill="#000"/>
<circle cx="426.20" cy="236.60" r="2.65" fill="#000"/>
<circle cx="445.86" cy="249.20" r="2.65" fill="#000"/>
<circle cx="465.52" cy="257.20" r="2.65" fill="#000"/>
<circle cx="485.18" cy="266.70" r="2.65" fill="#000"/>
<circle cx="504.84" cy="280.00" r="2.65" fill="#000"/>
<path d="M335.76 337.60L338.36 342.28L333.16 342.28Z" fill="#f00"/>
<path d="M341.66 321.50L344.26 326.18L339.06 326.18Z" fill="#f00"/>
<path d="M347.56 308.40L350.16 313.08L344.96 313.08Z" fill="#f00"/>
<path d="M357.39 289.50L359.99 294.18L354.79 294.18Z" fill="#f00"/>
<path d="M367.22 274.40L369.82 279.08L364.62 279.08Z" fill="#f00"/>
<path d="M377.05 260.60L379.65 265.28L374.45 265.28Z" fill="#f00"/>
<path d="M386.88 248.90L389.48 253.58L384.28 253.58Z" fill="#f00"/>
<path d="M396.71 241.10L399.31 245.78L394.11 245.78Z" fill="#f00"/>
<path d="M406.54 236.80L409.14 241.48L403.94 241.48Z" fill="#f00"/>
<path d="M416.37 235.60L418.97 240.28L413.77 240.28Z" fill="#f00"/>
<path d="M426.20 238.80L428.80 243.48L423.60 243.48Z" fill="#f00"/>
<path d="M445.86 247.60L448.46 252.28L443.26 252.28Z" fill="#f00"/>
<path d="M465.52 256.10L468.12 260.78L462.92 260.78Z" fill="#f00"/>
<path d="M485.18 266.90L487.78 271.58L482.58 271.58Z" fill="#f00"/>
<path d="M504.84 277.70L507.44 282.38L502.24 282.38Z" fill="#f00"/>
</svg></body></html>
